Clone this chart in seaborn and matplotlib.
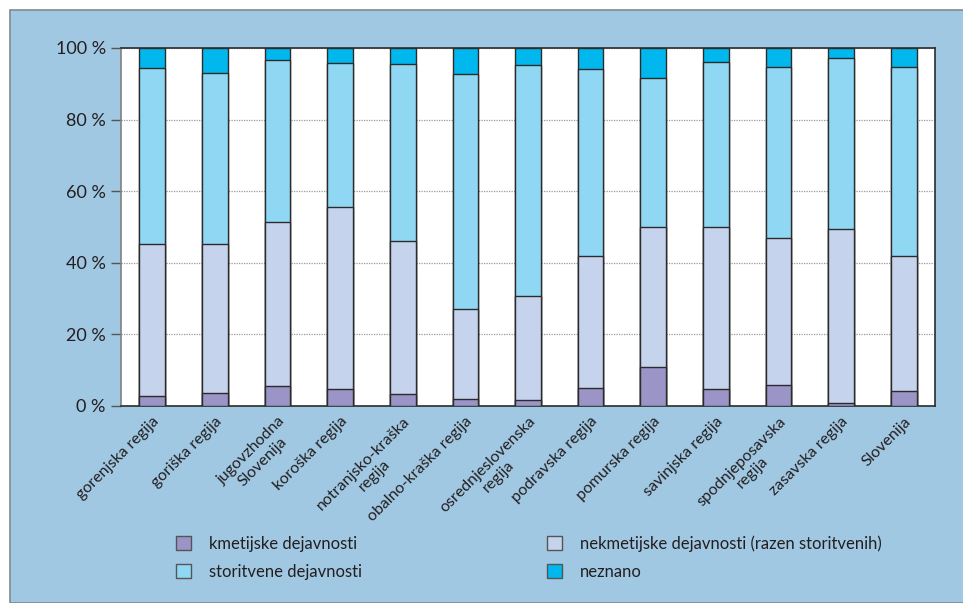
import numpy as np
import pandas as pd
import matplotlib
matplotlib.use("Agg")
import matplotlib.pyplot as plt
from matplotlib.patches import Rectangle, Patch
import seaborn as sns

# Podatki (odčitani s slike), v %
regije = [
    "gorenjska regija", "goriška regija", "jugovzhodna\nSlovenija", "koroška regija",
    "notranjsko-kraška\nregija", "obalno-kraška regija", "osrednjeslovenska\nregija",
    "podravska regija", "pomurska regija", "savinjska regija",
    "spodnjeposavska\nregija", "zasavska regija", "Slovenija",
]
kmetijske = [2.7, 3.7, 5.5, 4.8, 3.4, 2.0, 1.6, 5.0, 11.0, 4.8, 5.8, 0.9, 4.1]
nekmetijske = [42.6, 41.6, 46.0, 50.9, 42.6, 25.1, 29.2, 36.8, 38.9, 45.3, 41.2, 48.5, 37.7]
storitvene = [49.1, 47.8, 45.1, 40.2, 49.5, 65.7, 64.4, 52.3, 41.8, 46.1, 47.8, 47.8, 53.0]
neznano = [5.6, 6.9, 3.4, 4.1, 4.5, 7.2, 4.8, 5.9, 8.3, 3.8, 5.2, 2.8, 5.2]

serije = ["kmetijske dejavnosti", "nekmetijske dejavnosti (razen storitvenih)",
          "storitvene dejavnosti", "neznano"]
barve = ["#9b94c7", "#c6d3ec", "#90d7f4", "#00b8ee"]
ozadje = "#a1c8e2"
tekst = "#231f20"

df = pd.DataFrame({"regija": regije, "k": kmetijske, "n": nekmetijske,
                   "s": storitvene, "z": neznano})
kum = df[["k", "n", "s", "z"]].cumsum(axis=1)

plt.rcParams["font.family"] = ["Lato", "DejaVu Sans"]

fig = plt.figure(figsize=(9.63, 6.03), dpi=100, facecolor="white")
fig.patches.append(Rectangle((10 / 963, 0), 1, 1 - 10 / 603, transform=fig.transFigure,
                             facecolor=ozadje, edgecolor="#7d8a93", linewidth=1.2, zorder=-5))
ax = fig.add_axes([121 / 963, 1 - 406 / 603, (935 - 121) / 963, (406 - 48) / 603])
ax.set_facecolor("white")

# zlaganje: najprej najvišji del, nato nižji čez njega
for col, barva in zip(["z", "s", "n", "k"], barve[::-1]):
    sns.barplot(x=df["regija"], y=kum[col], color=barva, width=0.41, ax=ax,
                edgecolor="#2b2b2b", linewidth=1.0, saturation=1, zorder=3)

ax.set_ylim(0, 100)
ax.set_xlim(-0.5, len(regije) - 0.5)
ax.set_yticks([0, 20, 40, 60, 80, 100])
ax.set_yticklabels([f"{v} %" for v in [0, 20, 40, 60, 80, 100]], fontsize=13, color=tekst)
ax.yaxis.grid(True, linestyle=(0, (1, 1)), color="#9a9a9a", linewidth=0.9, zorder=0)
ax.set_axisbelow(True)
ax.tick_params(axis="y", length=7, width=1, color="#555555", pad=4)
ax.tick_params(axis="x", length=0, pad=6)
ax.set_xlabel("")
ax.set_ylabel("")
ax.set_xticks(range(len(regije)))
ax.set_xticklabels(regije, rotation=45, ha="right", rotation_mode="anchor",
                   fontsize=11.5, color=tekst, multialignment="center")
for s in ax.spines.values():
    s.set_color("#2b2b2b")
    s.set_linewidth(1.2)
ax.spines["left"].set_color("#808080")

rocaji = [Patch(facecolor=barve[0], edgecolor="#555555"),
          Patch(facecolor=barve[2], edgecolor="#555555"),
          Patch(facecolor=barve[1], edgecolor="#555555"),
          Patch(facecolor=barve[3], edgecolor="#555555")]
oznake = [serije[0], serije[2], serije[1], serije[3]]
fig.legend(rocaji, oznake, loc="upper left", bbox_to_anchor=(161 / 963, 1 - 520 / 603),
           ncol=2, frameon=False, fontsize=12, labelcolor=tekst,
           handlelength=0.9, handleheight=0.9, handletextpad=1.1,
           columnspacing=11.05, labelspacing=0.75)

fig.savefig("out.png", dpi=100, facecolor=fig.get_facecolor())
